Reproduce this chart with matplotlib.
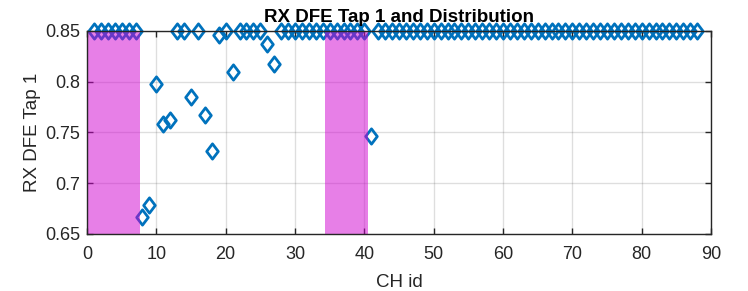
import matplotlib.pyplot as plt
import numpy as np
from matplotlib.path import Path

plt.rcParams['font.family'] = ['Liberation Sans', 'DejaVu Sans']

# channel ids and tap values
ch_id = list(range(1, 89))
tap1 = ([0.85] * 7 +
        [0.667, 0.679, 0.798, 0.758, 0.762, 0.85, 0.85, 0.785, 0.85, 0.767,
         0.732, 0.846, 0.85, 0.810, 0.85, 0.85, 0.85, 0.85, 0.837, 0.817] +
        [0.85] * 13 +
        [0.747] +
        [0.85] * 47)
# highlighted channel ranges (start, end)
bands = [(0.0, 7.65), (34.4, 40.6)]

axis_col = (0.15, 0.15, 0.15)
blue = '#0072BD'

diamond = Path([(0, 1), (0.76, 0), (0, -1), (-0.76, 0), (0, 1)],
               [Path.MOVETO, Path.LINETO, Path.LINETO, Path.LINETO, Path.CLOSEPOLY])


def main():
    fig = plt.figure(figsize=(7.48, 2.91), dpi=100)
    ax = fig.add_axes([0.1163, 0.1959, 0.8342, 0.6976])

    ax.plot(ch_id, tap1, linestyle='none', marker=diamond, markersize=11,
            markerfacecolor='none', markeredgecolor=blue, markeredgewidth=2,
            clip_on=False, zorder=3)

    for x0, x1 in bands:
        ax.axvspan(x0, x1, ymin=0, ymax=1, facecolor=(0.82, 0.0, 0.82),
                   alpha=0.5, edgecolor='none', zorder=4)

    ax.set_xlim(0, 90)
    ax.set_ylim(0.65, 0.85)
    ax.set_xticks(np.arange(0, 91, 10))
    ax.set_yticks([0.65, 0.7, 0.75, 0.8, 0.85])
    ax.set_yticklabels(['0.65', '0.7', '0.75', '0.8', '0.85'])
    ax.grid(True, color=(0.15, 0.15, 0.15), alpha=0.15, linewidth=1)
    ax.set_axisbelow(True)
    ax.tick_params(direction='in', length=4, width=1, colors=axis_col,
                   labelsize=13, top=True, right=True)
    ax.tick_params(axis='x', pad=8.5)
    ax.tick_params(axis='y', pad=5)
    for s in ax.spines.values():
        s.set_color(axis_col)
        s.set_linewidth(1)
        s.set_zorder(5)

    ax.set_xlabel('CH id', fontsize=13.5, color=axis_col, labelpad=8)
    ax.set_ylabel('RX DFE Tap 1', fontsize=13.5, color=axis_col, labelpad=2.5)
    ax.set_title('RX DFE Tap 1 and Distribution', fontsize=13.5,
                 fontweight='bold', pad=6.5)

    plt.savefig('out.png', dpi=100)


if __name__ == "__main__":
    main()
